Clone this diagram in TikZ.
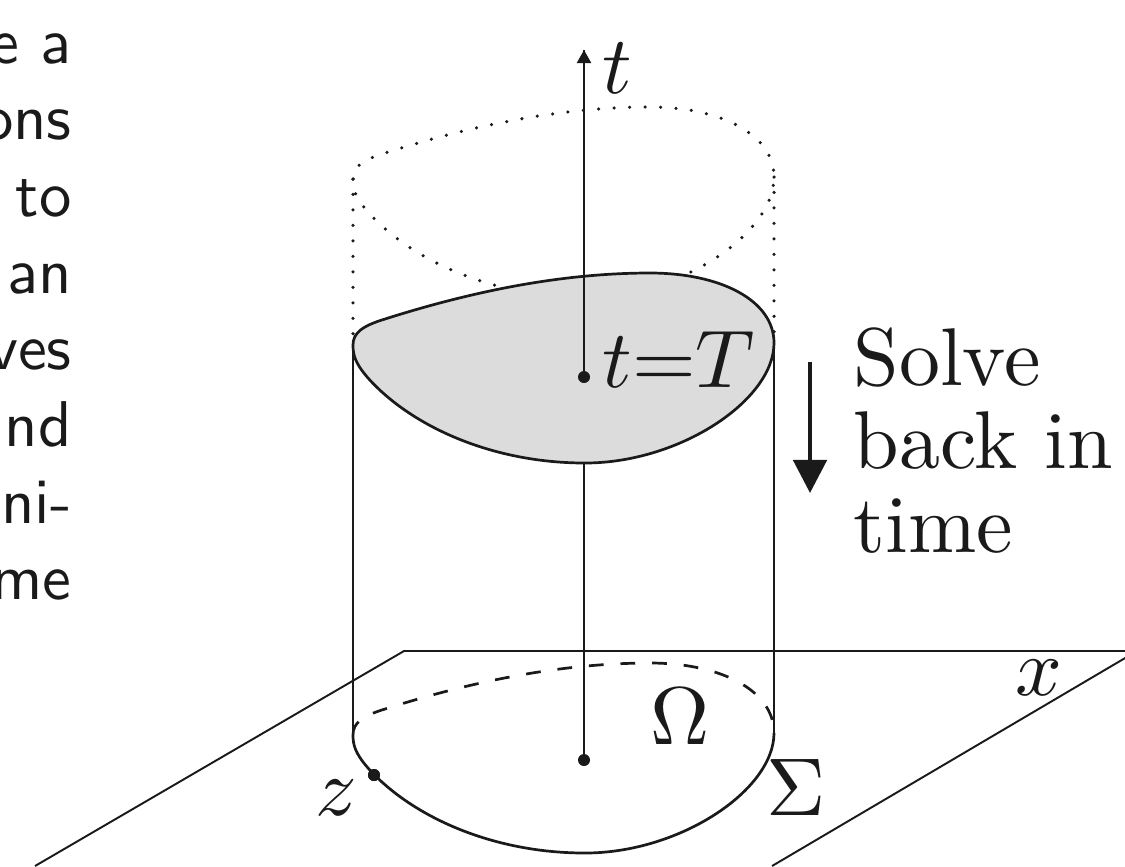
\documentclass[tikz,border=0pt]{standalone}
\usepackage{amsmath}
\usepackage{tikz}
\usetikzlibrary{arrows.meta}
\definecolor{ink}{HTML}{1A1A1A}
\definecolor{lidgray}{HTML}{DCDCDC}
\newcommand{\lidback}{(353,345) .. controls (353,333) and (362,326) .. (385,319) .. controls (470,292) and (560,273) .. (650,273) .. controls (720,273) and (774,300) .. (774,343)}
\newcommand{\lidfront}{.. controls (774,400) and (680,463) .. (585,463) .. controls (490,463) and (410,425) .. (368,378) .. controls (355,363) and (353,355) .. (353,345)}

\begin{document}
\begin{tikzpicture}[x=0.01cm,y=-0.01cm,
  every node/.style={text=ink},
  lbl/.style={font=\fontsize{10}{10.2}\selectfont,inner sep=0pt,scale=2.33},
  margintext/.style={font=\sffamily\fontsize{10}{11.85}\selectfont,align=right,inner sep=0pt,scale=1.84},
  outline/.style={draw=ink,line width=0.77pt},
  thin/.style={draw=ink,line width=0.6pt},
  hidden/.style={draw=ink,line width=0.77pt,dash pattern=on 4.2pt off 4.8pt},
  dotline/.style={draw=ink,line width=1pt,line cap=round,dash pattern=on 0pt off 4.4pt},
  dot/.style={circle,fill=ink,inner sep=0pt,minimum size=0.12cm},
  axis/.style={draw=ink,line width=0.6pt,-{Triangle[length=3.7pt,width=4pt]}},
  arr/.style={draw=ink,line width=1.4pt,-{Triangle[length=9.4pt,width=9.4pt]}}]
  \useasboundingbox (0,0) rectangle (1125,866);
  \coordinate (pl1) at (35,866);
  \coordinate (pl2) at (404,651);
  \coordinate (pl3) at (1137,651);
  \coordinate (pl4) at (772,866);
  \begin{scope}
    \clip (0,0) rectangle (1125,866);
    \draw[thin,line width=0.55pt] (pl1) -- (pl2) -- (pl3) -- (pl4);
  \end{scope}
  \coordinate (lidL) at (353,345);
  \coordinate (lidR) at (774,343);
  \coordinate (baseL) at (353,735);
  \coordinate (baseR) at (774,733);
  \coordinate (ghostL) at (353,179);
  \coordinate (ghostR) at (774,177);
  \coordinate (tip) at (584,50);
  \node[dot] (odot) at (584,760) {};
  \node[dot] (tdot) at (584,377) {};
  \node[dot] (zdot) at (374,775) {};
  \begin{scope}[shift={(0,-166)}]
    \draw[dotline] \lidback \lidfront;
  \end{scope}
  \draw[dotline] (ghostL) -- (lidL);
  \draw[dotline] (ghostR) -- (lidR);
  \draw[axis] (odot.center) -- (tip);
  \filldraw[outline,fill=lidgray] \lidback \lidfront -- cycle;
  \draw[thin] (tdot.center) -- (tip);
  \node[dot] at (tdot) {};
  \draw[thin] (lidL) -- (baseL);
  \draw[thin] (lidR) -- (baseR);
  \begin{scope}[shift={(0,390)}]
    \draw[hidden] \lidback;
    \draw[outline] (774,343) \lidfront;
  \end{scope}
  \node[dot] at (zdot) {};
  \node[lbl,anchor=base west] (tlab) at (601,93) {$t$};
  \node[lbl,anchor=base west] (Tlab) at (601,387) {$t{=}T$};
  \node[lbl,anchor=base] (omega) at (680,744) {$\Omega$};
  \node[lbl,anchor=base] (zlab) at (336,815) {$z$};
  \node[lbl,anchor=base] (sigma) at (796,815) {$\Sigma$};
  \node[lbl,anchor=base] (xlab) at (1039,695) {$x$};
  \coordinate (s1) at (810,362);
  \coordinate (s2) at (810,493);
  \draw[arr] (s1) -- (s2);
  \node[lbl,align=left,anchor=north west] (solve) at (852,326) {Solve\\back in\\time};
  \node[margintext,anchor=north east] (margin) at (73,32) {e a\\ons\\to\\an\\ves\\nd\\ni-\\me};
\end{tikzpicture}
\end{document}
